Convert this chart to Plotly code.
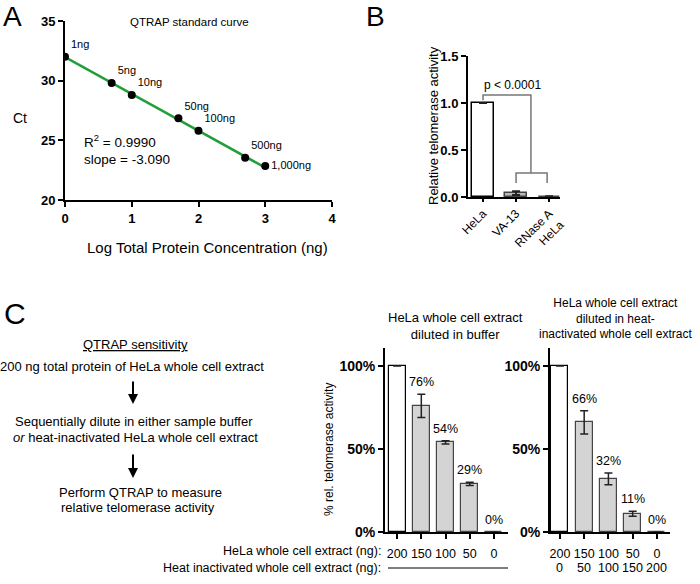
import plotly.graph_objects as go

# Panel A - standard curve
log_conc = [0, 0.699, 1, 1.699, 2, 2.699, 3]
ct_values = [32.0, 29.8, 28.8, 26.85, 25.8, 23.55, 22.85]
point_labels = ["1ng", "5ng", "10ng", "50ng", "100ng", "500ng", "1,000ng"]
fit_x = [0, 3]
fit_y = [31.98, 22.71]

# Panel B - relative activity
b_categories = ["HeLa", "VA-13", "RNase A<br>HeLa"]
b_values = [1.0, 0.04, 0.005]
b_errors = [0, 0.02, 0.003]

# Panel C - sensitivity
c_hela_ng = ["200", "150", "100", "50", "0"]
c_heat_ng = ["0", "50", "100", "150", "200"]
c_buffer_vals = [100, 76, 54, 29, 0]
c_buffer_err = [0, 7, 1, 1, 0]
c_heat_vals = [100, 66, 32, 11, 0]
c_heat_err = [0, 7, 3.5, 1.5, 0]

W, H = 700, 584
FONT = "Liberation Sans, Arial, sans-serif"


def px(x):
    return x / W


def py(y):
    return 1 - y / H


fig = go.Figure()

# ---- Panel A
fig.add_trace(go.Scatter(x=fit_x, y=fit_y, mode="lines", line=dict(color="#1f9e3a", width=2.5),
                         xaxis="x", yaxis="y", hoverinfo="skip"))
fig.add_trace(go.Scatter(x=log_conc, y=ct_values, mode="markers+text", text=point_labels,
                         textposition=["top right"] * 6 + ["middle right"],
                         textfont=dict(family=FONT, size=11, color="black"),
                         marker=dict(color="black", size=8), xaxis="x", yaxis="y"))

# ---- Panel B
fig.add_trace(go.Bar(x=[0, 1, 2], y=b_values, width=0.64,
                     marker=dict(color=["white", "#bbbbbb", "#bbbbbb"],
                                 line=dict(color=["black", "#444444", "#444444"], width=1.5)),
                     error_y=dict(type="data", array=b_errors, color="#222222", thickness=2, width=4),
                     xaxis="x2", yaxis="y2"))

# ---- Panel C
bar_style = dict(color=["white"] + ["#d4d4d4"] * 4,
                 line=dict(color=["black"] + ["#444444"] * 4, width=1.2))
fig.add_trace(go.Bar(x=[0, 1, 2, 3, 4], y=c_buffer_vals, width=0.7, marker=bar_style,
                     error_y=dict(type="data", array=c_buffer_err, color="#222222", thickness=1.5, width=4),
                     xaxis="x3", yaxis="y3"))
fig.add_trace(go.Bar(x=[0, 1, 2, 3, 4], y=c_heat_vals, width=0.7, marker=bar_style,
                     error_y=dict(type="data", array=c_heat_err, color="#222222", thickness=1.5, width=4),
                     xaxis="x4", yaxis="y4"))

axis_common = dict(showline=True, linecolor="black", linewidth=2, ticks="outside", ticklen=5,
                   tickwidth=2, tickcolor="black", showgrid=False, zeroline=False, automargin=False,
                   tickfont=dict(family=FONT, size=13, color="black", weight="bold"))
plain_ticks = dict(family=FONT, size=12.5, color="black")
pct_ticks = dict(family=FONT, size=14, color="black", weight="bold")

fig.update_layout(
    template="none",
    width=W, height=H, margin=dict(l=0, r=0, t=0, b=0),
    paper_bgcolor="white", plot_bgcolor="rgba(0,0,0,0)", showlegend=False,
    font=dict(family=FONT, color="black"), bargap=0,
    xaxis=dict(axis_common, domain=[px(65), px(332)], range=[0, 4], tickvals=[0, 1, 2, 3, 4],
               anchor="y"),
    yaxis=dict(axis_common, domain=[py(200), py(21)], range=[20, 35], tickvals=[20, 25, 30, 35],
               anchor="x"),
    xaxis2=dict(axis_common, domain=[px(468), px(560)], range=[-0.455, 2.33], tickvals=[0, 1, 2],
                ticktext=b_categories, tickangle=-45, ticklen=3, anchor="y2",
                tickfont=dict(family=FONT, size=12, color="black")),
    yaxis2=dict(axis_common, domain=[py(197), py(56)], range=[0, 1.5], tickvals=[0, 0.5, 1.0, 1.5],
                tickformat=".1f", anchor="x2"),
    xaxis3=dict(axis_common, domain=[px(385), px(508)], range=[-0.5, 4.58], tickvals=[0, 1, 2, 3, 4],
                ticktext=c_hela_ng, anchor="y3", ticklabelstandoff=4, tickfont=plain_ticks),
    yaxis3=dict(axis_common, domain=[py(532), py(348)], range=[0, 110.8], tickvals=[0, 50, 100],
                ticktext=["0%", "50%", "100%"], anchor="x3", tickfont=pct_ticks),
    xaxis4=dict(axis_common, domain=[px(550), px(670)], range=[-0.41, 4.54], tickvals=[0, 1, 2, 3, 4],
                ticktext=c_hela_ng, anchor="y4", ticklabelstandoff=4, tickfont=plain_ticks),
    yaxis4=dict(axis_common, domain=[py(532), py(348)], range=[0, 110.8], tickvals=[0, 50, 100],
                ticktext=["0%", "50%", "100%"], anchor="x4", tickfont=pct_ticks),
)

ann = []


def paper_text(x, y, text, size=13, xanchor="center", **kw):
    ann.append(dict(x=px(x), y=py(y), xref="paper", yref="paper", text=text, showarrow=False,
                    xanchor=xanchor, yanchor="middle", font=dict(family=FONT, size=size, color="black"), **kw))


# panel letters
paper_text(12, 17, "A", size=28)
paper_text(375, 17, "B", size=28)
paper_text(15, 313, "C", size=30)

# panel A texts
paper_text(189, 22, "QTRAP standard curve", size=11.5)
paper_text(20, 118, "Ct", size=14)
paper_text(207, 248, "Log Total Protein Concentration (ng)", size=15)
ann.append(dict(x=0.25, y=24.2, xref="x", yref="y", text="R<sup>2</sup> = 0.9990<br>slope = -3.090",
                showarrow=False, xanchor="left", align="left", font=dict(family=FONT, size=13.5, color="black")))

# panel B texts
paper_text(434, 126, "Relative telomerase activity", size=13, textangle=-90)
ann.append(dict(x=0.9, y=1.19, xref="x2", yref="y2", text="p < 0.0001", showarrow=False,
                font=dict(family=FONT, size=12, color="black")))

# panel C flow text
paper_text(135, 344, "<u>QTRAP sensitivity</u>")
paper_text(132, 366, "200 ng total protein of HeLa whole cell extract")
paper_text(134, 421, "Sequentially dilute in either sample buffer")
paper_text(135, 437, "<i>or</i> heat-inactivated HeLa whole cell extract")
paper_text(140, 492, "Perform QTRAP to measure")
paper_text(138, 507, "relative telomerase activity")
for y0, y1 in [(380, 404), (453, 478)]:
    ann.append(dict(x=px(133), y=py(y1), xref="paper", yref="paper", ax=0, ay=-(y1 - y0),
                    showarrow=True, arrowhead=2, arrowsize=1,
                    arrowwidth=2, arrowcolor="black", text=""))

# panel C chart titles, axis title and row labels
paper_text(455, 326, "HeLa whole cell extract<br>diluted in buffer", size=13)
paper_text(615, 318, "HeLa whole cell extract<br>diluted in heat-<br>inactivated whole cell extract", size=12)
paper_text(329, 450, "% rel. telomerase activity", size=12, textangle=-90)
paper_text(383, 551, "HeLa whole cell extract (ng):", size=12.5, xanchor="right")
paper_text(383, 568, "Heat inactivated whole cell extract (ng):", size=12.5, xanchor="right")

# second row of amounts under the right chart
for i, lab in enumerate(c_heat_ng):
    ann.append(dict(x=i, y=py(568), xref="x4", yref="paper", text=lab, showarrow=False,
                    yanchor="middle", font=plain_ticks))

# percentage labels above C bars
for xa, ya, vals, errs in [("x3", "y3", c_buffer_vals, c_buffer_err), ("x4", "y4", c_heat_vals, c_heat_err)]:
    for i, (v, e) in enumerate(zip(vals, errs)):
        if i == 0:
            continue
        ann.append(dict(x=i, y=v + e, xref=xa, yref=ya, text=f"{v}%", showarrow=False, yanchor="bottom",
                        yshift=3, font=dict(family=FONT, size=12.5, color="black")))

fig.update_layout(annotations=ann)

shapes = [
    # significance brackets in B
    dict(type="path", path="M 0,1.03 L 0,1.085 L 1.45,1.085 L 1.45,0.255", xref="x2", yref="y2",
         line=dict(color="#777777", width=1.5)),
    dict(type="path", path="M 1,0.15 L 1,0.255 L 1.94,0.255 L 1.94,0.15", xref="x2", yref="y2",
         line=dict(color="#777777", width=1.5)),
    # line: no heat-inactivated extract in the buffer series
    dict(type="line", x0=px(388), x1=px(508), y0=py(568), y1=py(568), xref="paper", yref="paper",
         line=dict(color="black", width=1)),
]
fig.update_layout(shapes=shapes)

# the page body has a default 8px margin; drop it so the figure fills the window
fig.write_html("out.html", config={"displayModeBar": False},
               post_script="document.body.style.margin='0';")
